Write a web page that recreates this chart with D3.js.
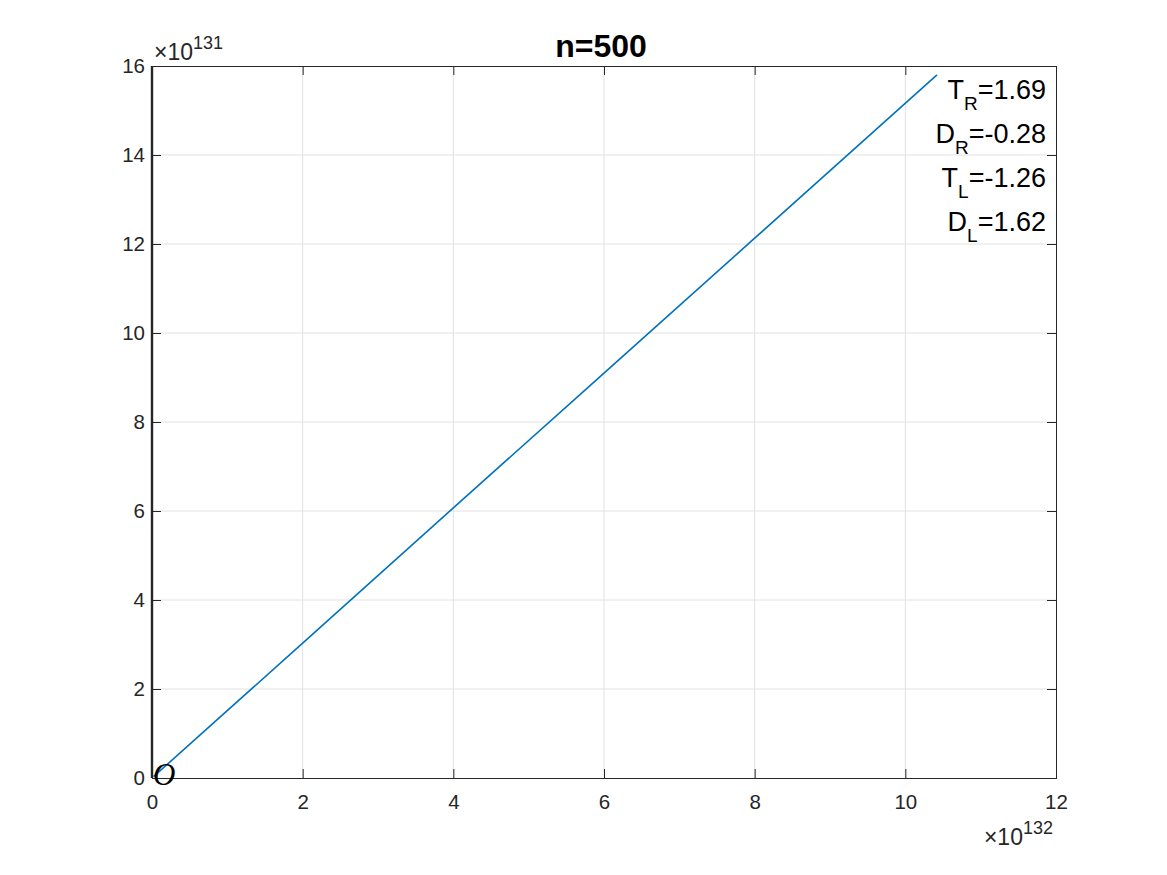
<!DOCTYPE html>
<html><head><meta charset="utf-8">
<script src="https://cdn.jsdelivr.net/npm/d3@7"></script>
<style>body{margin:0;background:#fff;}svg{display:block;font-family:"Liberation Sans",Arial,Helvetica,sans-serif;}</style>
</head><body>
<script>
const xVals = [0.02, 2, 4, 6, 8, 10.42];
const yVals = [0.03, 3.03, 6.07, 9.10, 12.13, 15.80];
const xTicks = [0, 2, 4, 6, 8, 10, 12];
const yTicks = [0, 2, 4, 6, 8, 10, 12, 14, 16];
const title = "n=500";
const annotations = [["T","R","=1.69"],["D","R","=-0.28"],["T","L","=-1.26"],["D","L","=1.62"]];

const W = 1167, H = 875;
const m = {l:152, r:1056, t:66, b:778};
const svg = d3.select("body").append("svg").attr("width",W).attr("height",H);
const x = d3.scaleLinear().domain([0,12]).range([m.l,m.r]);
const y = d3.scaleLinear().domain([0,16]).range([m.b,m.t]);

// grid
svg.append("g").selectAll("line").data(xTicks.slice(1,-1)).join("line")
  .attr("x1",d=>x(d)).attr("x2",d=>x(d)).attr("y1",m.t).attr("y2",m.b)
  .attr("stroke","#e2e2e2").attr("stroke-width",1);
svg.append("g").selectAll("line").data(yTicks.slice(1,-1)).join("line")
  .attr("y1",d=>y(d)).attr("y2",d=>y(d)).attr("x1",m.l).attr("x2",m.r)
  .attr("stroke","#e2e2e2").attr("stroke-width",1);

// axes
const tickLen = 9;
const xAx = d3.axisBottom(x).tickValues(xTicks).tickSize(-tickLen).tickPadding(16).tickFormat(d3.format("d"));
const yAx = d3.axisLeft(y).tickValues(yTicks).tickSize(-tickLen).tickPadding(7).tickFormat(d3.format("d"));
const gx = svg.append("g").attr("transform",`translate(0,${m.b})`).call(xAx);
const gy = svg.append("g").attr("transform",`translate(${m.l},0)`).call(yAx);
const gxt = svg.append("g").attr("transform",`translate(0,${m.t})`).call(d3.axisTop(x).tickValues(xTicks).tickSize(-tickLen).tickFormat(""));
const gyr = svg.append("g").attr("transform",`translate(${m.r},0)`).call(d3.axisRight(y).tickValues(yTicks).tickSize(-tickLen).tickFormat(""));
[gx,gy,gxt,gyr].forEach(g=>{
  g.attr("font-size",20.5).attr("font-family","Liberation Sans, Arial, sans-serif");
  g.select(".domain").attr("stroke","#262626").attr("stroke-width",1);
  g.selectAll(".tick line").attr("stroke","#262626");
  g.selectAll("text").attr("fill","#262626");
});

// thick vertical line at x=0
svg.append("line").attr("x1",x(0)).attr("x2",x(0)).attr("y1",y(0)).attr("y2",y(16))
  .attr("stroke","#262626").attr("stroke-width",2.4);

// data line
const pts = xVals.map((v,i)=>[v,yVals[i]]);
svg.append("path").datum(pts).attr("fill","none").attr("stroke","#0072BD").attr("stroke-width",1.6)
  .attr("d",d3.line().x(d=>x(d[0])).y(d=>y(d[1])));

// origin O
svg.append("text").attr("x",x(0)+1).attr("y",y(0)+7).attr("font-family","Liberation Serif, Times New Roman, serif")
  .attr("font-style","italic").attr("font-size",31).attr("fill","#000").text("O");

// exponent labels
const e1 = svg.append("text").attr("x",x(0)+2).attr("y",60).attr("font-size",23).attr("fill","#262626");
e1.append("tspan").text("×10");
e1.append("tspan").attr("dy",-11).attr("font-size",18).text("131");
const e2 = svg.append("text").attr("x",1053).attr("y",845).attr("font-size",23).attr("fill","#262626").attr("text-anchor","end");
e2.append("tspan").text("×10");
e2.append("tspan").attr("dy",-11).attr("font-size",18).text("132");

// title
svg.append("text").attr("x",(m.l+m.r)/2 - 3).attr("y",57).attr("text-anchor","middle")
  .attr("font-weight","bold").attr("font-size",32).attr("fill","#000").text(title);

// annotations
annotations.forEach((a,i)=>{
  const t = svg.append("text").attr("x",1046).attr("y",99+i*44).attr("text-anchor","end")
    .attr("font-size",27).attr("fill","#000");
  t.append("tspan").text(a[0]);
  t.append("tspan").attr("dy",11).attr("font-size",19).text(a[1]);
  t.append("tspan").attr("dy",-11).text(a[2]);
});
</script>
</body></html>
